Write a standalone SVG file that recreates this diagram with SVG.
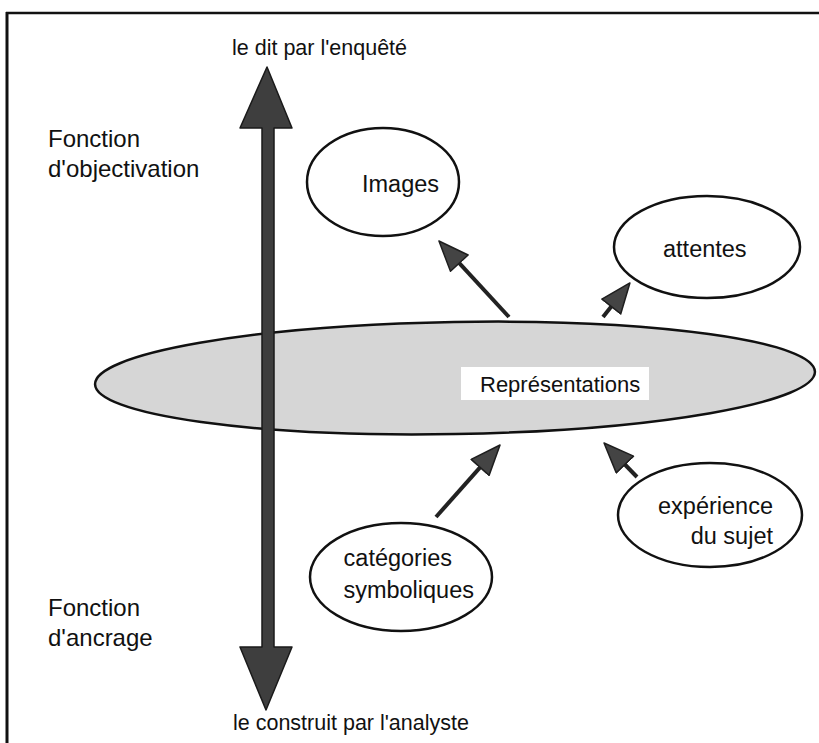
<svg xmlns="http://www.w3.org/2000/svg" width="819" height="743" viewBox="0 0 819 743">
<defs>
<marker id="head" markerUnits="userSpaceOnUse" markerWidth="32" markerHeight="26" viewBox="0 0 32 26" refX="1" refY="13" orient="auto">
<path d="M1,1 L31,13 L1,25 z" fill="#444" stroke="#1e1e1e" stroke-width="1.5" stroke-linejoin="round"/>
</marker>
</defs>
<style>
text{font-family:"Liberation Sans",Arial,sans-serif;fill:#111}
.node{fill:#fff;stroke:#111;stroke-width:2.5}
.lbl{font-size:23.5px}
.side{font-size:24px}
.axis{font-size:21.5px}
.conn{stroke:#222;stroke-width:4;fill:none;marker-end:url(#head)}
</style>
<rect width="819" height="743" fill="#fff"/>
<g id="frame" stroke="#111" fill="none">
<line x1="6" y1="13" x2="819" y2="13" stroke-width="2.5"/>
<line x1="7" y1="12" x2="7" y2="743" stroke-width="3"/>
</g>
<g id="representations">
<ellipse cx="455" cy="378" rx="360" ry="56" transform="rotate(-1 455 378)" fill="#d6d6d6" stroke="#111" stroke-width="2.5"/>
<rect x="461" y="367" width="188" height="33" fill="#fff"/>
<text class="lbl" x="480" y="392" style="font-size:22px">Représentations</text>
</g>
<g id="axis">
<polygon points="267,67 292,128 274,128 274,647 292,647 266,710 240,647 262,647 262,128 240,128" fill="#3e3e3e" stroke="#1a1a1a" stroke-width="1.5" stroke-linejoin="round"/>
<text class="axis" x="232" y="55">le dit par l'enquêté</text>
<text class="axis" x="233" y="730">le construit par l'analyste</text>
</g>
<g id="fonction-objectivation">
<text class="side" x="48" y="147">Fonction</text>
<text class="side" x="48" y="177">d'objectivation</text>
</g>
<g id="fonction-ancrage">
<text class="side" x="48" y="616">Fonction</text>
<text class="side" x="48" y="646">d'ancrage</text>
</g>
<g id="images">
<ellipse class="node" cx="383" cy="182" rx="76" ry="54"/>
<text class="lbl" x="362" y="192">Images</text>
</g>
<g id="attentes">
<ellipse class="node" cx="707" cy="247" rx="93" ry="51"/>
<text class="lbl" x="663" y="257">attentes</text>
</g>
<g id="experience">
<ellipse class="node" cx="710" cy="515" rx="92" ry="52"/>
<text class="lbl" x="773" y="514" text-anchor="end">expérience</text>
<text class="lbl" x="773" y="544" text-anchor="end">du sujet</text>
</g>
<g id="categories">
<ellipse class="node" cx="401" cy="577" rx="91" ry="54"/>
<text class="lbl" x="452" y="566" text-anchor="end">catégories</text>
<text class="lbl" x="474" y="598" text-anchor="end">symboliques</text>
</g>
<g id="connectors">
<line class="conn" x1="509" y1="317" x2="459.3" y2="263.1"/>
<line class="conn" x1="603" y1="317" x2="611.3" y2="306.5"/>
<line class="conn" x1="436" y1="517" x2="480.1" y2="467.4"/>
<line class="conn" x1="637" y1="477" x2="624.9" y2="464.5"/>
</g>
</svg>
